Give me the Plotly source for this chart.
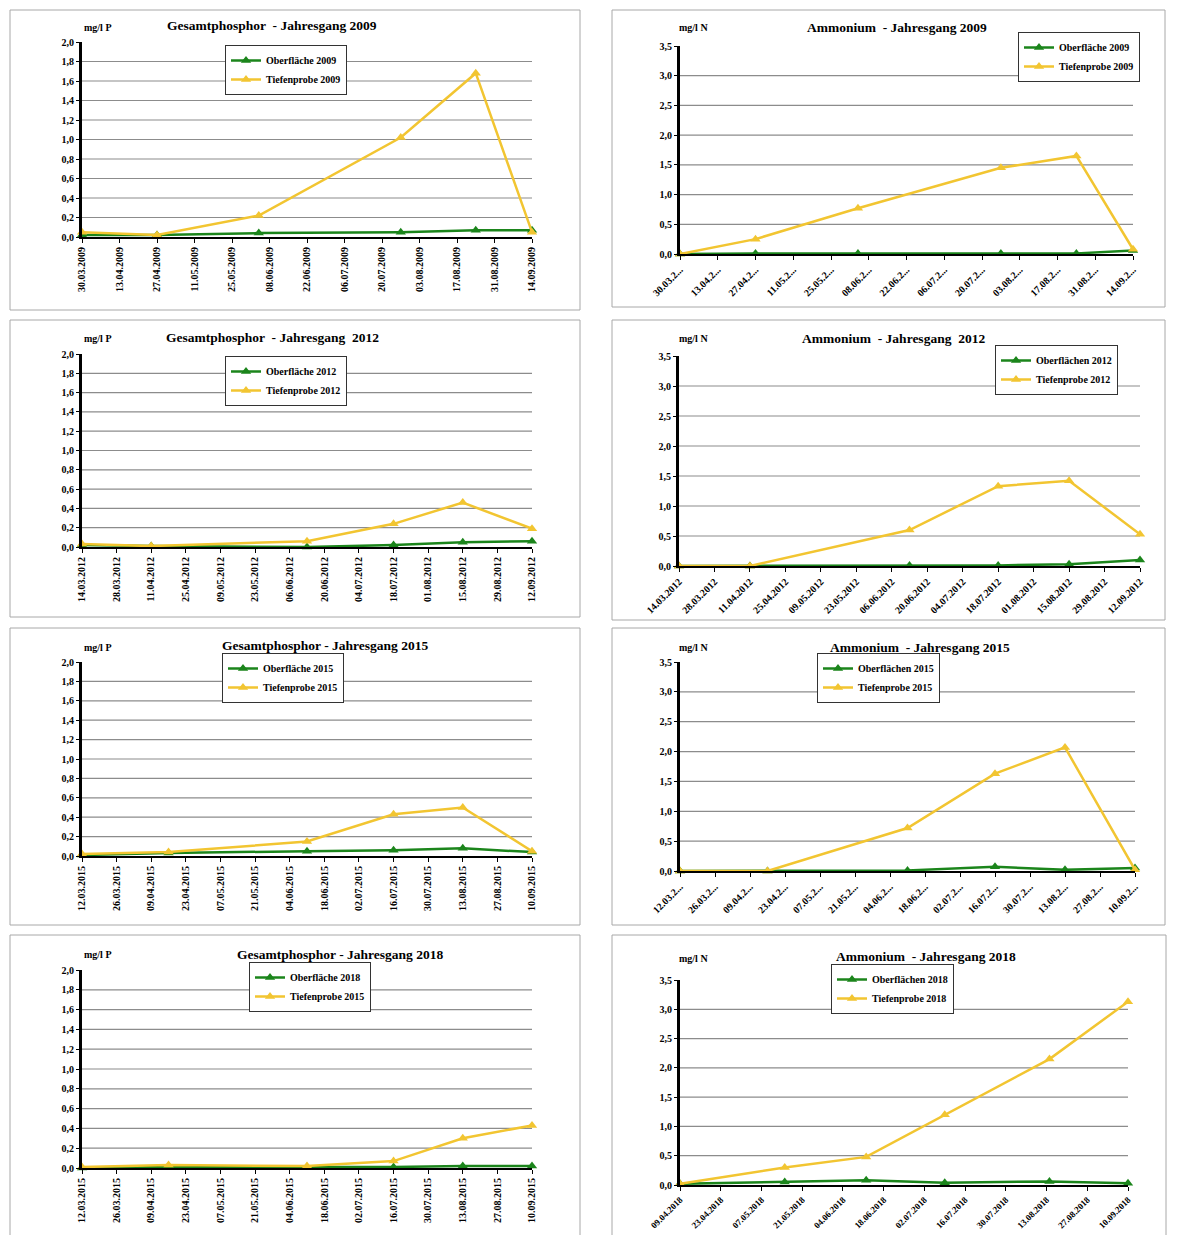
import plotly.graph_objects as go
import pandas as pd

# ---------------- DATA ----------------
# Gesamtphosphor 2009
p09_dates = ["30.03.2009", "27.04.2009", "04.06.2009", "27.07.2009", "24.08.2009", "14.09.2009"]
p09_ober = [0.02, 0.02, 0.04, 0.05, 0.07, 0.07]
p09_tief = [0.05, 0.02, 0.22, 1.02, 1.68, 0.05]
# Ammonium 2009
n09_dates = ["30.03.2009", "27.04.2009", "04.06.2009", "27.07.2009", "24.08.2009", "14.09.2009"]
n09_ober = [0.0, 0.01, 0.01, 0.01, 0.01, 0.06]
n09_tief = [0.0, 0.25, 0.77, 1.45, 1.65, 0.08]
ticks_2009 = ["30.03.2009", "13.04.2009", "27.04.2009", "11.05.2009", "25.05.2009", "08.06.2009",
              "22.06.2009", "06.07.2009", "20.07.2009", "03.08.2009", "17.08.2009", "31.08.2009",
              "14.09.2009"]

# Gesamtphosphor 2012
p12_dates = ["14.03.2012", "11.04.2012", "13.06.2012", "18.07.2012", "15.08.2012", "12.09.2012"]
p12_ober = [0.02, 0.01, 0.0, 0.02, 0.05, 0.06]
p12_tief = [0.03, 0.01, 0.06, 0.24, 0.46, 0.19]
# Ammonium 2012
n12_dates = ["14.03.2012", "11.04.2012", "13.06.2012", "18.07.2012", "15.08.2012", "12.09.2012"]
n12_ober = [0.0, 0.0, 0.01, 0.01, 0.03, 0.10]
n12_tief = [0.0, 0.0, 0.60, 1.33, 1.42, 0.53]
ticks_2012 = ["14.03.2012", "28.03.2012", "11.04.2012", "25.04.2012", "09.05.2012", "23.05.2012",
              "06.06.2012", "20.06.2012", "04.07.2012", "18.07.2012", "01.08.2012", "15.08.2012",
              "29.08.2012", "12.09.2012"]

# Gesamtphosphor 2015
p15_dates = ["12.03.2015", "16.04.2015", "11.06.2015", "16.07.2015", "13.08.2015", "10.09.2015"]
p15_ober = [0.01, 0.03, 0.05, 0.06, 0.08, 0.04]
p15_tief = [0.02, 0.04, 0.15, 0.43, 0.50, 0.05]
# Ammonium 2015
n15_dates = ["12.03.2015", "16.04.2015", "11.06.2015", "16.07.2015", "13.08.2015", "10.09.2015"]
n15_ober = [0.0, 0.0, 0.01, 0.07, 0.02, 0.05]
n15_tief = [0.0, 0.0, 0.72, 1.63, 2.07, 0.02]
ticks_2015 = ["12.03.2015", "26.03.2015", "09.04.2015", "23.04.2015", "07.05.2015", "21.05.2015",
              "04.06.2015", "18.06.2015", "02.07.2015", "16.07.2015", "30.07.2015", "13.08.2015",
              "27.08.2015", "10.09.2015"]

# Gesamtphosphor 2018 (axis labelled with 2015 dates in the original)
p18_dates = ["12.03.2015", "16.04.2015", "11.06.2015", "16.07.2015", "13.08.2015", "10.09.2015"]
p18_ober = [0.0, 0.01, 0.01, 0.01, 0.02, 0.02]
p18_tief = [0.01, 0.03, 0.02, 0.07, 0.30, 0.43]
# Ammonium 2018
n18_dates = ["09.04.2018", "15.05.2018", "12.06.2018", "09.07.2018", "14.08.2018", "10.09.2018"]
n18_ober = [0.02, 0.05, 0.08, 0.04, 0.06, 0.03]
n18_tief = [0.02, 0.30, 0.48, 1.20, 2.15, 3.13]
ticks_2018 = ["09.04.2018", "23.04.2018", "07.05.2018", "21.05.2018", "04.06.2018", "18.06.2018",
              "02.07.2018", "16.07.2018", "30.07.2018", "13.08.2018", "27.08.2018", "10.09.2018"]

# ---------------- PANEL DEFINITIONS ----------------
panels = [
    dict(title="Gesamtphosphor  - Jahresgang 2009", unit="mg/l P", ymax=2.0, dtick=0.2,
         ticks=ticks_2009, trunc=False, angle=-90, dates=p09_dates, ober=p09_ober, tief=p09_tief,
         names=("Oberfläche 2009", "Tiefenprobe 2009")),
    dict(title="Ammonium  - Jahresgang 2009", unit="mg/l N", ymax=3.5, dtick=0.5,
         ticks=ticks_2009, trunc=True, angle=-45, dates=n09_dates, ober=n09_ober, tief=n09_tief,
         names=("Oberfläche 2009", "Tiefenprobe 2009")),
    dict(title="Gesamtphosphor  - Jahresgang  2012", unit="mg/l P", ymax=2.0, dtick=0.2,
         ticks=ticks_2012, trunc=False, angle=-90, dates=p12_dates, ober=p12_ober, tief=p12_tief,
         names=("Oberfläche 2012", "Tiefenprobe 2012")),
    dict(title="Ammonium  - Jahresgang  2012", unit="mg/l N", ymax=3.5, dtick=0.5,
         ticks=ticks_2012, trunc=False, angle=-45, dates=n12_dates, ober=n12_ober, tief=n12_tief,
         names=("Oberflächen 2012", "Tiefenprobe 2012")),
    dict(title="Gesamtphosphor - Jahresgang 2015", unit="mg/l P", ymax=2.0, dtick=0.2,
         ticks=ticks_2015, trunc=False, angle=-90, dates=p15_dates, ober=p15_ober, tief=p15_tief,
         names=("Oberfläche 2015", "Tiefenprobe 2015")),
    dict(title="Ammonium  - Jahresgang 2015", unit="mg/l N", ymax=3.5, dtick=0.5,
         ticks=ticks_2015, trunc=True, angle=-45, dates=n15_dates, ober=n15_ober, tief=n15_tief,
         names=("Oberflächen 2015", "Tiefenprobe 2015")),
    dict(title="Gesamtphosphor - Jahresgang 2018", unit="mg/l P", ymax=2.0, dtick=0.2,
         ticks=ticks_2015, trunc=False, angle=-90, dates=p18_dates, ober=p18_ober, tief=p18_tief,
         names=("Oberfläche 2018", "Tiefenprobe 2015")),
    dict(title="Ammonium  - Jahresgang 2018", unit="mg/l N", ymax=3.5, dtick=0.5,
         ticks=ticks_2018, trunc=False, angle=-45, dates=n18_dates, ober=n18_ober, tief=n18_tief,
         names=("Oberflächen 2018", "Tiefenprobe 2018")),
]

# ---------------- LAYOUT (pixel positions in the 1177x1243 page) ----------------
PAGE_W, PAGE_H = 1177, 1243
OFF = 8  # default body margin of the html page
W, H = PAGE_W - 2 * OFF, PAGE_H - 2 * OFF
# plot area: x0, x1, y_top, y_bottom
plot_px = [
    (82, 532, 42, 237), (680, 1133, 46, 254),
    (82, 532, 354, 547), (679, 1140, 356, 566),
    (82, 532, 662, 856), (680, 1135, 662, 871),
    (82, 532, 970, 1168), (680, 1128, 980, 1185),
]
xtick_size = [10, 10, 10, 10, 10, 10, 10, 9]
box_px = [
    (10, 10, 580, 310), (612, 10, 1165, 307),
    (10, 320, 580, 617), (612, 320, 1165, 620),
    (10, 628, 580, 925), (612, 628, 1165, 925),
    (10, 935, 580, 1238), (612, 935, 1166, 1238),
]
title_px = [(272, 25), (897, 27), (272, 337), (893, 338), (325, 645), (920, 647), (340, 954), (926, 956)]
unit_px = [(98, 28), (693, 28), (98, 338), (693, 338), (98, 647), (693, 647), (98, 955), (693, 958)]
legend_px = [(225, 45), (1018, 32), (225, 356), (995, 345), (222, 653), (817, 653), (249, 962), (831, 964)]

GREEN = "#1B851B"
YELLOW = "#F2C531"
FONT = "Liberation Serif"


def fx(x):
    return (x - OFF) / W


def fy(y):
    return 1 - (y - OFF) / H


fig = go.Figure()
shapes = []
annotations = []
layout_axes = {}

for i, p in enumerate(panels, start=1):
    sfx = "" if i == 1 else str(i)
    xref, yref = "x" + sfx, "y" + sfx
    legname = "legend" if i == 1 else f"legend{i}"

    x0, x1, yt, yb = plot_px[i - 1]
    tickdates = pd.to_datetime(p["ticks"], format="%d.%m.%Y")
    if p["trunc"]:
        ticktext = [t[:7] + "..." for t in p["ticks"]]
    else:
        ticktext = list(p["ticks"])
    xdates = pd.to_datetime(p["dates"], format="%d.%m.%Y")

    for name, vals, col, lw in ((p["names"][0], p["ober"], GREEN, 2.5),
                                (p["names"][1], p["tief"], YELLOW, 2.5)):
        fig.add_trace(go.Scatter(
            x=xdates, y=vals, mode="lines+markers", name=name,
            line=dict(color=col, width=lw),
            marker=dict(symbol="triangle-up", size=9, color=col),
            xaxis=xref, yaxis=yref, legend=legname, cliponaxis=False,
        ))

    layout_axes["xaxis" + sfx] = dict(
        domain=[fx(x0), fx(x1)], anchor=yref, type="date",
        range=[tickdates[0], tickdates[-1]],
        tickmode="array", tickvals=list(tickdates), ticktext=ticktext,
        tickangle=p["angle"], showgrid=False, zeroline=False,
        showline=True, linecolor="black", linewidth=2,
        ticks="outside", ticklen=4, tickcolor="black", tickwidth=1,
        tickfont=dict(family=FONT, size=xtick_size[i - 1], color="black", weight="bold"),
        fixedrange=True, automargin=False,
    )
    layout_axes["yaxis" + sfx] = dict(
        domain=[fy(yb), fy(yt)], anchor=xref,
        range=[0, p["ymax"]], dtick=p["dtick"], tick0=0, tickformat=".1f",
        showgrid=False, zeroline=False,
        showline=True, linecolor="black", linewidth=3,
        ticks="outside", ticklen=3, tickcolor="black",
        tickfont=dict(family=FONT, size=10, color="black", weight="bold"),
        fixedrange=True, automargin=False,
    )

    # horizontal gridlines (none at 0 and top)
    n = int(round(p["ymax"] / p["dtick"]))
    for k in range(1, n):
        yv = k * p["dtick"]
        shapes.append(dict(type="line", xref=xref + " domain", yref=yref,
                           x0=0, x1=1, y0=yv, y1=yv, layer="below",
                           line=dict(color="#8C8C8C", width=1.2)))

    # panel border
    bx0, by0, bx1, by1 = box_px[i - 1]
    shapes.append(dict(type="rect", xref="paper", yref="paper",
                       x0=fx(bx0), x1=fx(bx1), y0=fy(by1), y1=fy(by0),
                       line=dict(color="#A8A8A8", width=1), layer="below"))

    tx, ty = title_px[i - 1]
    annotations.append(dict(text="<b>" + p["title"] + "</b>", x=fx(tx), y=fy(ty),
                            xref="paper", yref="paper", showarrow=False,
                            xanchor="center", yanchor="middle",
                            font=dict(family=FONT, size=13.5, color="black")))
    ux, uy = unit_px[i - 1]
    annotations.append(dict(text="<b>" + p["unit"] + "</b>", x=fx(ux), y=fy(uy),
                            xref="paper", yref="paper", showarrow=False,
                            xanchor="center", yanchor="middle",
                            font=dict(family=FONT, size=10, color="black")))

    lx, ly = legend_px[i - 1]
    layout_axes[legname] = dict(
        x=fx(lx), y=fy(ly), xanchor="left", yanchor="top",
        xref="paper", yref="paper",
        bgcolor="white", bordercolor="#333333", borderwidth=1,
        font=dict(family=FONT, size=10, color="black", weight="bold"),
        tracegroupgap=0, itemwidth=30, traceorder="normal",
    )

fig.update_layout(
    width=W, height=H,
    margin=dict(l=0, r=0, t=0, b=0, autoexpand=False),
    paper_bgcolor="white", plot_bgcolor="white",
    separators=",.",
    showlegend=True,
    shapes=shapes, annotations=annotations,
    font=dict(family=FONT, color="black"),
    **layout_axes,
)

fig.write_html("out.html")
